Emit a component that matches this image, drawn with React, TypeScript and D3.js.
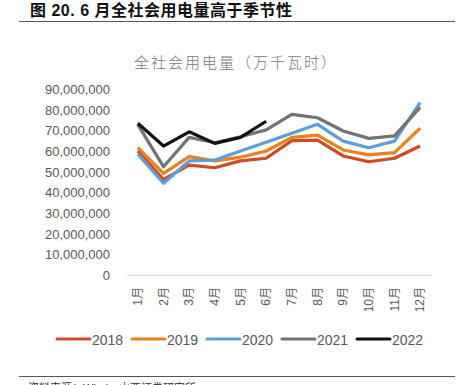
import { useEffect, useRef } from 'react'
import * as d3 from 'd3'

const months = ['1月', '2月', '3月', '4月', '5月', '6月', '7月', '8月', '9月', '10月', '11月', '12月']
const years = ['2018', '2019', '2020', '2021', '2022']
const colors = ['#d04a26', '#e8821a', '#5b9fd8', '#737373', '#111111']

const s2018 = [60.0, 46.3, 53.2, 51.9, 55.2, 56.5, 65.0, 65.3, 57.6, 54.8, 56.5, 62.4]
const s2019 = [61.6, 49.2, 57.3, 55.2, 57.0, 60.0, 66.6, 67.7, 60.5, 58.1, 59.2, 71.0]
const s2020 = [58.5, 44.4, 55.2, 55.6, 60.0, 64.2, 68.6, 72.9, 64.8, 61.6, 64.8, 83.4]
const s2021 = [72.8, 52.4, 66.6, 64.0, 66.9, 70.2, 77.7, 76.1, 69.7, 66.1, 67.3, 81.1]
const s2022 = [73.4, 62.4, 69.3, 63.7, 66.6, 74.4]

const yTicks = [0, 10, 20, 30, 40, 50, 60, 70, 80, 90]

export default function App() {
  const svgRef = useRef<SVGSVGElement>(null)

  useEffect(() => {
    const svg = d3.select(svgRef.current)
    svg.selectAll('*').remove()
    const sans = 'Liberation Sans, Arial, sans-serif'
    const cjk = '"Noto Sans CJK SC", sans-serif'

    // header
    svg.append('text')
      .attr('x', 30).attr('y', 16)
      .attr('font-family', `${sans}, ${cjk}`)
      .attr('font-weight', 'bold').attr('font-size', 16).attr('fill', '#111')
      .attr('letter-spacing', 0.5)
      .text('图 20. 6 月全社会用电量高于季节性')
    svg.append('line').attr('x1', 19).attr('x2', 455).attr('y1', 21.5).attr('y2', 21.5)
      .attr('stroke', '#555').attr('stroke-width', 1)

    svg.append('text')
      .attr('x', 236).attr('y', 68).attr('text-anchor', 'middle')
      .attr('font-family', cjk).attr('font-weight', 300).attr('font-size', 15).attr('fill', '#777')
      .attr('letter-spacing', 2)
      .text('全社会用电量（万千瓦时）')

    const x = d3.scaleBand().domain(months).range([125, 433])
    const y = d3.scaleLinear().domain([0, 90]).range([275, 89])

    // y labels
    svg.append('g').selectAll('text').data(yTicks).join('text')
      .attr('x', 110).attr('y', (d) => y(d) + 5)
      .attr('text-anchor', 'end')
      .attr('font-family', sans).attr('font-size', 13).attr('fill', '#595959')
      .text((d) => d3.format(',')(d * 1000000))

    svg.append('line').attr('x1', 127).attr('x2', 432).attr('y1', 275.5).attr('y2', 275.5)
      .attr('stroke', '#d9d9d9').attr('stroke-width', 1)

    // x labels
    svg.append('g').selectAll('text').data(months).join('text')
      .attr('transform', (d) => `translate(${x(d)! + x.bandwidth() / 2 + 4},287) rotate(-90)`)
      .attr('text-anchor', 'end')
      .attr('font-family', `${sans}, ${cjk}`).attr('font-size', 12).attr('fill', '#595959')
      .text((d) => d)

    const series = [s2018, s2019, s2020, s2021, s2022]
    const line = d3.line<number>()
      .x((_, i) => x(months[i])! + x.bandwidth() / 2)
      .y((d) => y(d))

    series.forEach((s, i) => {
      svg.append('path')
        .attr('d', line(s) ?? '')
        .attr('fill', 'none')
        .attr('stroke', colors[i])
        .attr('stroke-width', 3.2)
        .attr('stroke-linejoin', 'round')
    })

    // legend
    const lg = svg.append('g').selectAll('g').data(years).join('g')
      .attr('transform', (_, i) => `translate(${57 + i * 75},339)`)
    lg.append('line').attr('x1', 0).attr('x2', 33).attr('y1', 0).attr('y2', 0)
      .attr('stroke', (_, i) => colors[i]).attr('stroke-width', 3).attr('stroke-linecap', 'round')
    lg.append('text').attr('x', 35).attr('y', 5.5)
      .attr('font-family', sans).attr('font-size', 14).attr('fill', '#595959')
      .text((d) => d)

    svg.append('line').attr('x1', 19).attr('x2', 455).attr('y1', 376.5).attr('y2', 376.5)
      .attr('stroke', '#555').attr('stroke-width', 1)
    svg.append('text')
      .attr('x', 28).attr('y', 392)
      .attr('font-family', `${sans}, ${cjk}`).attr('font-size', 11).attr('fill', '#333')
      .text('资料来源：Wind，山西证券研究所')
  }, [])

  return (
    <svg ref={svgRef} width={469} height={385}
      style={{ position: 'absolute', left: 0, top: 0, background: '#fff' }} />
  )
}
